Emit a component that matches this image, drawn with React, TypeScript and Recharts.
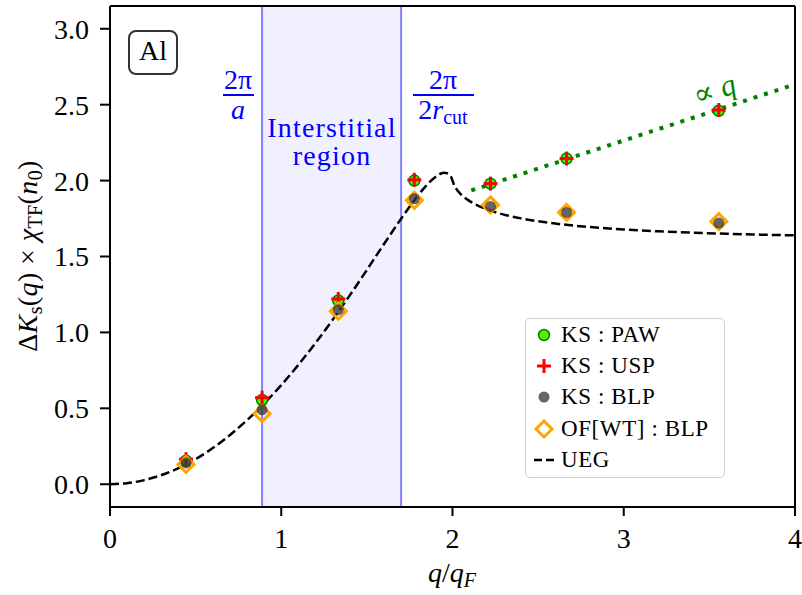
import {
  ComposedChart,
  Customized,
  Legend,
  Line,
  ReferenceArea,
  ReferenceLine,
  Scatter,
  XAxis,
  YAxis,
} from 'recharts'

// sampled q/q_F points (multiples of the reciprocal lattice spacing)
const Q_SAMPLES = [0.444, 0.888, 1.333, 1.777, 2.222, 2.666, 3.555]
const KS_PAW = [0.155, 0.555, 1.21, 2.0, 1.98, 2.145, 2.46]
const KS_USP = [0.165, 0.57, 1.22, 2.005, 1.98, 2.145, 2.465]
const KS_BLP = [0.14, 0.49, 1.15, 1.88, 1.83, 1.79, 1.72]
const OF_WT_BLP = [0.13, 0.465, 1.14, 1.87, 1.84, 1.79, 1.73]

// uniform electron gas curve
const UEG_Q = [
  0, 0.1, 0.2, 0.4, 0.6, 0.8, 1.0, 1.2, 1.4, 1.6, 1.7, 1.8, 1.85, 1.9, 1.93,
  1.95, 1.97, 1.99, 2.0, 2.01, 2.02, 2.05, 2.1, 2.2, 2.3, 2.4, 2.6, 2.8, 3.0,
  3.2, 3.4, 3.6, 3.8, 4.0,
]
const UEG_K = [
  0, 0.007, 0.027, 0.106, 0.238, 0.422, 0.653, 0.93, 1.244, 1.582, 1.749,
  1.904, 1.971, 2.024, 2.045, 2.051, 2.048, 2.028, 2.0, 1.968, 1.949, 1.908,
  1.865, 1.811, 1.776, 1.751, 1.717, 1.694, 1.678, 1.666, 1.657, 1.65, 1.644,
  1.639,
]

// "∝ q" guide
const FIT_Q = [2.11, 4.0]
const FIT_K = [1.935, 2.634]

const X_TICKS = [0, 1, 2, 3, 4]
const Y_TICKS = [0, 0.5, 1.0, 1.5, 2.0, 2.5, 3.0]
const Q_LATTICE = 0.888 // 2π/a
const Q_CUT = 1.7 // 2π/2r_cut

const FONT = '"Liberation Serif", "DejaVu Serif", serif'
const BLUE = '#0000ff'
const GREEN = '#008000'

const toPoints = (xs: number[], ys: number[]) => xs.map((x, i) => ({ x, y: ys[i] }))

function PawDot({ cx, cy }: any) {
  return <circle cx={cx} cy={cy} r={5.5} fill="#55ee00" stroke={GREEN} strokeWidth={1.5} />
}

function UspCross({ cx, cy }: any) {
  return (
    <g stroke="#ff0000" strokeWidth={3}>
      <line x1={cx - 7} x2={cx + 7} y1={cy} y2={cy} />
      <line x1={cx} x2={cx} y1={cy - 7} y2={cy + 7} />
    </g>
  )
}

function BlpDot({ cx, cy }: any) {
  return <circle cx={cx} cy={cy} r={5.5} fill="#333333" fillOpacity={0.75} />
}

function OfDiamond({ cx, cy }: any) {
  const d = 8
  return (
    <path
      d={`M${cx},${cy - d} L${cx + d},${cy} L${cx},${cy + d} L${cx - d},${cy} Z`}
      fill="none"
      stroke="#ffa500"
      strokeWidth={3}
      strokeLinejoin="miter"
    />
  )
}

function Annotations() {
  return (
    <g fontFamily={FONT} fontSize={28}>
      {/* material tag */}
      <rect x={129} y={31} width={48} height={43} rx={7} fill="#fff" stroke="#333" strokeWidth={2} />
      <text x={153} y={60} textAnchor="middle" fill="#000">Al</text>

      {/* 2π/a */}
      <g fill={BLUE}>
        <text x={238} y={89} textAnchor="middle">2π</text>
        <line x1={223} x2={254} y1={95} y2={95} stroke={BLUE} strokeWidth={2} />
        <text x={238} y={119} textAnchor="middle" fontStyle="italic">a</text>
      </g>

      {/* 2π/2r_cut */}
      <g fill={BLUE}>
        <text x={443} y={89} textAnchor="middle">2π</text>
        <line x1={413} x2={474} y1={95} y2={95} stroke={BLUE} strokeWidth={2} />
        <text x={443} y={119} textAnchor="middle">
          2<tspan fontStyle="italic">r</tspan>
          <tspan fontSize={20} dy={5}>cut</tspan>
        </text>
      </g>

      <text x={332} y={137} textAnchor="middle" fill={BLUE} letterSpacing={1.2}>Interstitial</text>
      <text x={332} y={165} textAnchor="middle" fill={BLUE} letterSpacing={1.2}>region</text>

      <text
        x={0}
        y={0}
        transform="translate(714,89) rotate(-19)"
        textAnchor="middle"
        fill={GREEN}
        dominantBaseline="central"
        fontSize={30}
      >
        ∝ <tspan fontStyle="italic">q</tspan>
      </text>

      {/* axis titles */}
      <text x={0} y={0} transform="translate(37,256) rotate(-90)" textAnchor="middle" fill="#000" letterSpacing={0.4}>
        Δ<tspan fontStyle="italic">K</tspan>
        <tspan fontSize={20} dy={5}>s</tspan>
        <tspan dy={-5}>(</tspan>
        <tspan fontStyle="italic">q</tspan>)
        {' × '}
        <tspan fontStyle="italic">χ</tspan>
        <tspan fontSize={20} dy={5}>TF</tspan>
        <tspan dy={-5}>(</tspan>
        <tspan fontStyle="italic">n</tspan>
        <tspan fontSize={20} dy={5}>0</tspan>
        <tspan dy={-5}>)</tspan>
      </text>
      <text x={452} y={582} textAnchor="middle" fill="#000">
        <tspan fontStyle="italic">q</tspan>/<tspan fontStyle="italic">q</tspan>
        <tspan fontSize={20} dy={5} fontStyle="italic">F</tspan>
      </text>
    </g>
  )
}

const LEGEND_ROWS = [
  { label: 'KS : PAW', icon: <PawDot cx={18} cy={16} /> },
  { label: 'KS : USP', icon: <UspCross cx={18} cy={16} /> },
  { label: 'KS : BLP', icon: <BlpDot cx={18} cy={16} /> },
  { label: 'OF[WT] : BLP', icon: <OfDiamond cx={18} cy={16} /> },
  {
    label: 'UEG',
    icon: <line x1={8} x2={30} y1={16} y2={16} stroke="#000" strokeWidth={2.5} strokeDasharray="8 4" />,
  },
]

function LegendBox() {
  return (
    <div
      style={{
        width: 200,
        height: 160,
        boxSizing: 'border-box',
        border: '1.5px solid #d0d0d0',
        borderRadius: 5,
        background: 'rgba(255,255,255,0.8)',
        fontFamily: FONT,
        fontSize: 23,
        letterSpacing: 0.6,
        color: '#000',
      }}
    >
      {LEGEND_ROWS.map((r) => (
        <div key={r.label} style={{ display: 'flex', alignItems: 'center', height: 31.4 }}>
          <svg width={35} height={32} style={{ flex: 'none' }}>
            {r.icon}
          </svg>
          <span style={{ whiteSpace: 'nowrap' }}>{r.label}</span>
        </div>
      ))}
    </div>
  )
}

export default function App() {
  return (
    <div style={{ position: 'absolute', left: 0, top: 0, width: 802, height: 595, background: '#fff' }}>
      <ComposedChart width={802} height={595} margin={{ top: 6, right: 7, bottom: 0, left: 0 }}>
        <XAxis
          type="number"
          dataKey="x"
          domain={[0, 4]}
          ticks={X_TICKS}
          allowDataOverflow
          height={88}
          tickSize={9}
          tickMargin={12}
          axisLine={{ stroke: '#000', strokeWidth: 2 }}
          tickLine={{ stroke: '#000', strokeWidth: 2 }}
          tick={{ fontFamily: FONT, fontSize: 28, fill: '#000' }}
        />
        <YAxis
          type="number"
          dataKey="y"
          domain={[-0.15, 3.15]}
          ticks={Y_TICKS}
          allowDataOverflow
          width={110}
          tickSize={10}
          tickMargin={11}
          tickFormatter={(v: number) => v.toFixed(1)}
          axisLine={{ stroke: '#000', strokeWidth: 2 }}
          tickLine={{ stroke: '#000', strokeWidth: 2 }}
          tick={{ fontFamily: FONT, fontSize: 28, fill: '#000' }}
        />
        <ReferenceArea x1={Q_LATTICE} x2={Q_CUT} fill="#0000ff" fillOpacity={0.06} stroke="none" />
        <ReferenceLine x={Q_LATTICE} stroke="#8080ff" strokeWidth={2} />
        <ReferenceLine x={Q_CUT} stroke="#8080ff" strokeWidth={2} />
        <ReferenceLine y={3.15} stroke="#000" strokeWidth={2} />
        <ReferenceLine x={4} stroke="#000" strokeWidth={2} />

        <Line
          data={toPoints(UEG_Q, UEG_K)}
          dataKey="y"
          type="monotoneX"
          stroke="#000"
          strokeWidth={2.5}
          strokeDasharray="9 4"
          dot={false}
          activeDot={false}
          isAnimationActive={false}
          legendType="none"
        />
        <Line
          data={toPoints(FIT_Q, FIT_K)}
          dataKey="y"
          type="linear"
          stroke={GREEN}
          strokeWidth={4}
          strokeDasharray="4 7"
          dot={false}
          activeDot={false}
          isAnimationActive={false}
          legendType="none"
        />
        <Scatter data={toPoints(Q_SAMPLES, KS_PAW)} shape={PawDot} isAnimationActive={false} />
        <Scatter data={toPoints(Q_SAMPLES, KS_USP)} shape={UspCross} isAnimationActive={false} />
        <Scatter data={toPoints(Q_SAMPLES, OF_WT_BLP)} shape={OfDiamond} isAnimationActive={false} />
        <Scatter data={toPoints(Q_SAMPLES, KS_BLP)} shape={BlpDot} isAnimationActive={false} />

        <Customized component={<Annotations />} />
        <Legend
          layout="vertical"
          align="center"
          verticalAlign="middle"
          content={() => <LegendBox />}
          wrapperStyle={{ left: 525, top: 318, width: 200, height: 160 }}
        />
      </ComposedChart>
    </div>
  )
}
